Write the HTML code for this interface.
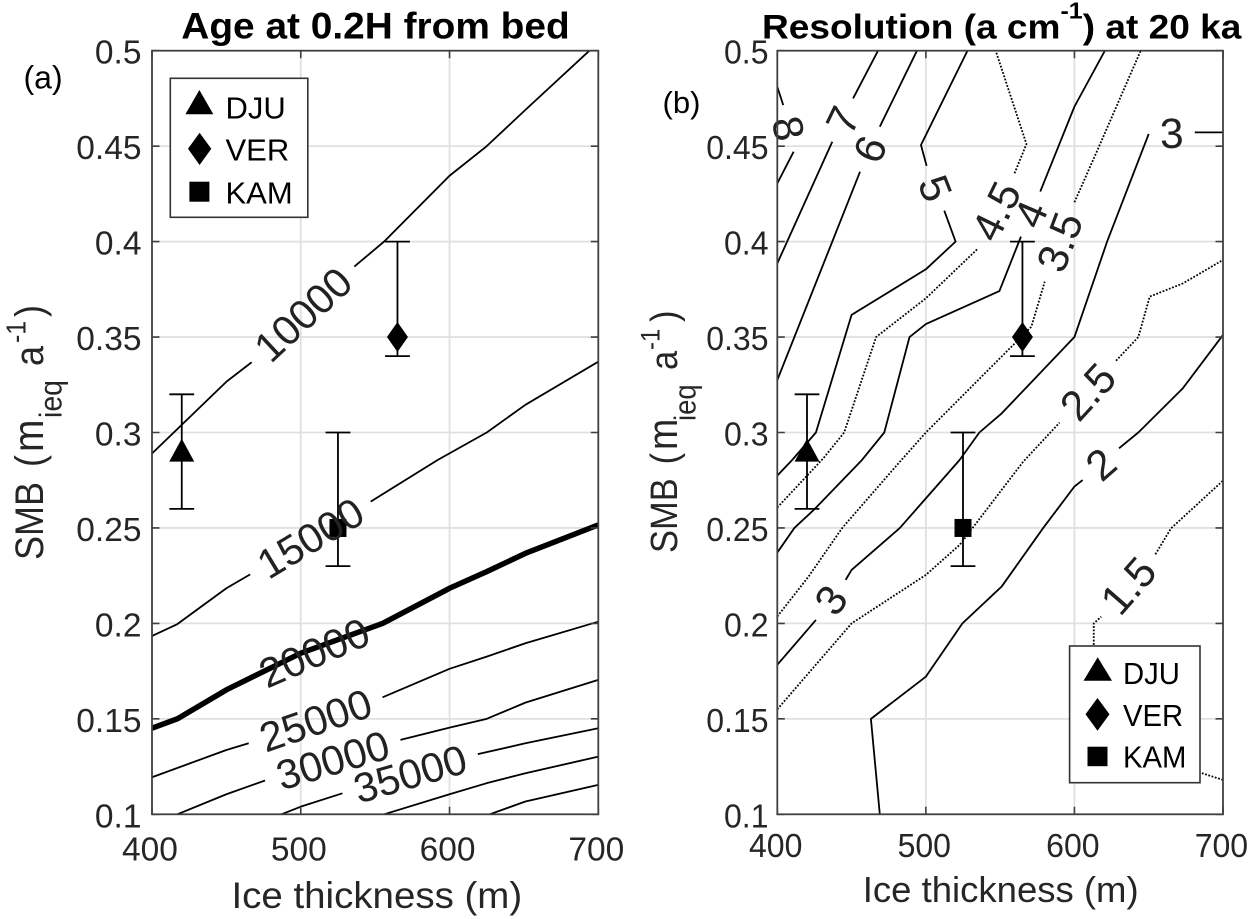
<!DOCTYPE html>
<html lang="en">
<head>
<meta charset="utf-8">
<title>Age and resolution contour charts</title>
<style>
html,body{margin:0;padding:0;background:#fff;}
svg{display:block;font-family:"Liberation Sans",sans-serif;}
</style>
</head>
<body>
<svg id="figure" xmlns="http://www.w3.org/2000/svg" width="1249" height="919" viewBox="0 0 1249 919">
  <rect x="0" y="0" width="1249" height="919" fill="#fff"/>
  <defs>
    <clipPath id="clip-a"><rect x="152" y="50.7" width="446.3" height="763.6"/></clipPath>
    <clipPath id="clip-b"><rect x="777.3" y="50.7" width="445.7" height="763.6"/></clipPath>
  </defs>
  <g id="plot-a"></g>
  <g id="plot-b"></g>

  <text transform="translate(375.5,38.3) scale(1.05,1)" text-anchor="middle" font-size="37" font-weight="700" fill="#000">Age at 0.2H from bed</text>
  <text transform="translate(762,38.3) scale(1.09,1)" font-size="34" font-weight="700" fill="#000">Resolution (a cm<tspan font-size="23" dy="-20">-1</tspan><tspan dy="20">) at 20 ka</tspan></text>

  <text transform="translate(23.5,88.5)" font-size="32" fill="#000">(a)</text>
  <text transform="translate(662.5,113)" font-size="31" fill="#000">(b)</text>

  <text transform="translate(376.8,908) scale(1.04,1)" text-anchor="middle" font-size="37" fill="#262626">Ice thickness (m)</text>
  <text transform="translate(1000.7,902)" text-anchor="middle" font-size="36.5" fill="#262626">Ice thickness (m)</text>

  <text transform="translate(43,560) rotate(-90) scale(1,1.1)" font-size="36" fill="#262626">SMB<tspan x="93">(</tspan><tspan x="108" font-size="39">m</tspan><tspan x="142" font-size="28.5" dy="17">ieq</tspan><tspan x="194" dy="-17">a</tspan><tspan x="217" font-size="25" dy="-16">-1</tspan><tspan x="243" dy="16">)</tspan></text>
  <text transform="translate(677,553) rotate(-90) scale(1,1.1)" font-size="34.5" fill="#262626">SMB<tspan x="88.6">(</tspan><tspan x="103" font-size="37.5">m</tspan><tspan x="132" font-size="27.5" dy="17">ieq</tspan><tspan x="183" dy="-17">a</tspan><tspan x="203" font-size="24" dy="-16">-1</tspan><tspan x="231" dy="16">)</tspan></text>

  <g>
    <rect x="170.3" y="78.3" width="137.5" height="139" fill="#fff" stroke="#333" stroke-width="1.6"/>
    <polygon points="185.4,114.3 213.3,114.3 199.4,90" fill="#000"/>
    <polygon points="199.6,132.7 211.3,148.8 199.6,165 188,148.8" fill="#000"/>
    <rect x="189.4" y="181.7" width="20" height="20" fill="#000"/>
    <text transform="translate(225.5,118.3)" font-size="31" fill="#000">DJU</text>
    <text transform="translate(225.5,160.7)" font-size="31" fill="#000">VER</text>
    <text transform="translate(225.5,203.3)" font-size="31" fill="#000">KAM</text>
  </g>

  <g>
    <rect x="1069.6" y="646" width="130.4" height="136.7" fill="#fff" stroke="#333" stroke-width="1.6"/>
    <polygon points="1083.5,680.7 1112,680.7 1097.7,657.3" fill="#000"/>
    <polygon points="1097.5,698 1109.5,714.3 1097.5,730.7 1085.5,714.3" fill="#000"/>
    <rect x="1087.5" y="746.7" width="20" height="19.5" fill="#000"/>
    <text transform="translate(1123,684) scale(.96,1)" font-size="30.5" fill="#000">DJU</text>
    <text transform="translate(1123,726) scale(.96,1)" font-size="30.5" fill="#000">VER</text>
    <text transform="translate(1123,767.3) scale(.96,1)" font-size="30.5" fill="#000">KAM</text>
  </g>
</svg>

<script>
// ---- axis values ----
const xTicks = [400, 500, 600, 700];
const xTickLabels = ['400', '500', '600', '700'];
const yTicks = [0.1, 0.15, 0.2, 0.25, 0.3, 0.35, 0.4, 0.45, 0.5];
const yTickLabels = ['0.1', '0.15', '0.2', '0.25', '0.3', '0.35', '0.4', '0.45', '0.5'];

// ---- ice-core sites ----
const siteNames = ['DJU', 'VER', 'KAM'];
const siteThickness = [420, 565, 525];
const siteSmb = [0.29, 0.35, 0.25];
const siteSmbLow = [0.26, 0.34, 0.23];
const siteSmbHigh = [0.32, 0.40, 0.30];

// ---- panel (a): age contours, [thickness, SMB] runs split where a label interrupts the line ----
const age10000 = [[[400,.289],[450,.3266],[467,.3368]], [[536,.3869],[556,.4],[600,.4345],[625,.45],[651,.469],[694,.5]]];
const age15000 = [[[400,.1934],[417,.1996],[450,.2184],[466,.2257]], [[547,.2638],[592,.2856],[625,.3],[651,.3145],[700,.3371]]];
const age20000 = [[[400,.1451],[417,.15],[450,.1652],[500,.1844],[555,.2],[600,.2184],[625,.2271],[651,.2367],[700,.2516]]];
const age20000LabelSpan = [[472,.1722],[546,.1972]];
const age25000 = [[[400,.1194],[450,.1337],[465,.1372]], [[555,.1613],[600,.1762],[625,.1826],[651,.1896],[700,.2009]]];
const age30000 = [[[417,.1],[450,.1105],[476,.1177]], [[567,.139],[600,.1454],[625,.15],[651,.1585],[700,.1704]]];
const age35000 = [[[487,.1],[500,.104],[528,.111]], [[619,.1315],[651,.1372],[700,.1451]]];
const age40000 = [[[556,.1],[600,.1105],[625,.1163],[651,.1215],[700,.1302]]];
const age45000 = [[[627,.1],[651,.1067],[700,.1154]]];

// ---- panel (b): resolution contours ----
const res1p5 = [[[700,.118],[686,.1215],[640,.135],[620,.16],[613,.18],[613,.2],[618,.2035]], [[654.5,.2362],[665,.2498],[681,.2612],[700,.2748]]];
const res2 = [[[469,.1],[463,.15],[500,.1721],[524.6,.2],[551,.2193],[579,.25],[600,.2717],[605.5,.2751]], [[630,.2917],[643,.3],[673,.3232],[700,.3511]]];
const res2p5 = [[[400,.155],[450,.2],[500,.2254],[522.7,.2411],[565.5,.2847],[590,.3052]], [[628,.3376],[643,.35],[650.7,.3712],[673,.3781],[700,.3904]]];
const res3 = [[[400,.1783],[426,.2018]], [[446,.2228],[450,.228],[482.5,.25],[500,.2655],[522.7,.2856],[536,.3],[551,.31],[600,.35],[622,.4],[650,.4564]], [[681,.4572],[700,.4572]]];
const res3p5 = [[[400,.2036],[421,.2245],[443.7,.25],[482.5,.2847],[500,.3],[571,.3554],[580,.379]], [[600,.4206],[616.5,.4497],[644.6,.5]]];
const res4 = [[[400,.2371],[411.5,.25],[425,.2598],[457,.2856],[472,.3],[489,.35],[500,.3568],[549.5,.3741],[564,.4026]], [[577,.4262],[600,.4707],[620.5,.5]]];
const res4p5 = [[[400,.2607],[431,.2865],[445,.3],[466.5,.35],[500,.3703],[534.7,.3961]], [[559.7,.4358],[567.7,.4511],[547,.5]]];
const res5 = [[[400,.2774],[410,.2856],[426,.3],[450,.3616],[500,.3855],[520,.4],[512.4,.4162]], [[500.5,.4397],[496.7,.4506],[528,.5]]];
const res6 = [[[400,.3275],[455.7,.4366]], [[469,.4602],[494,.5]]];
const res7 = [[[400,.3886],[437,.4523]], [[451,.475],[467.8,.5]]];
const res8 = [[[400,.4305],[411,.4471]], [[404,.4715],[400,.4811]]];

const SVGNS = 'http://www.w3.org/2000/svg';
const TOP = 50.7, BOTTOM = 814.3;

function yScale(v) { return BOTTOM - (v - 0.1) / 0.4 * (BOTTOM - TOP); }
function makeXScale(left, right) { return function (v) { return left + (v - 400) / 300 * (right - left); }; }
function mk(parent, tag, attrs, txt) {
  const el = document.createElementNS(SVGNS, tag);
  for (const k in attrs) el.setAttribute(k, attrs[k]);
  if (txt !== undefined) el.textContent = txt;
  parent.appendChild(el);
  return el;
}

function drawGrid(g, xs, left, right) {
  yTicks.forEach(function (t) {
    if (t === 0.1 || t === 0.5) return;
    const el = mk(g, 'line', {x1: left, x2: right, y1: yScale(t), y2: yScale(t), stroke: '#e0e0e0', 'stroke-width': 1.8});
    
    
  });
  xTicks.forEach(function (t) {
    if (t === 400 || t === 700) return;
    const el = mk(g, 'line', {x1: xs(t), x2: xs(t), y1: TOP, y2: BOTTOM, stroke: '#e0e0e0', 'stroke-width': 1.8});
    
    
  });
}

function drawAxes(g, xs, left, right, fontSize, tickScale, yLabelRight, xLabelShift, xLabelBase) {
  const box = mk(g, 'rect', {x: left, y: TOP, width: right - left, height: BOTTOM - TOP, fill: 'none', stroke: '#404040', 'stroke-width': 1.8});
  
  
  yTicks.forEach(function (t, i) {
    const y = yScale(t);
    const a = mk(g, 'path', {d: 'M' + left + ' ' + y + 'h7.5M' + right + ' ' + y + 'h-7.5', stroke: '#404040', 'stroke-width': 1.6, fill: 'none'});
    
    
    const l = mk(g, 'text', {transform: 'translate(' + yLabelRight + ',' + (y + 13) + ') scale(' + tickScale + ',1)', 'text-anchor': 'end', 'font-size': fontSize, fill: '#262626'}, yTickLabels[i]);
    
    
  });
  xTicks.forEach(function (t, i) {
    const x = xs(t);
    const a = mk(g, 'path', {d: 'M' + x + ' ' + TOP + 'v7.5M' + x + ' ' + BOTTOM + 'v-7.5', stroke: '#404040', 'stroke-width': 1.6, fill: 'none'});
    
    
    const l = mk(g, 'text', {transform: 'translate(' + (x + xLabelShift) + ',' + xLabelBase + ') scale(' + tickScale + ',1)', 'text-anchor': 'middle', 'font-size': fontSize, fill: '#262626'}, xTickLabels[i]);
    
    
  });
}

function drawLine(g, run, xs, clipId, width, dash) {
  const d = run.map(function (p, i) { return (i ? 'L' : 'M') + xs(p[0]).toFixed(2) + ' ' + yScale(p[1]).toFixed(2); }).join('');
  const attrs = {d: d, fill: 'none', stroke: '#000', 'stroke-width': width, 'clip-path': 'url(#' + clipId + ')', 'stroke-linejoin': 'round'};
  if (dash) attrs['stroke-dasharray'] = dash;
  const el = mk(g, 'path', attrs);
  
  
}

function drawLabel(g, text, a, b, xs, size) {
  const x1 = xs(a[0]), y1 = yScale(a[1]), x2 = xs(b[0]), y2 = yScale(b[1]);
  let ang = Math.atan2(y2 - y1, x2 - x1) * 180 / Math.PI;
  if (ang > 90) ang -= 180;
  if (ang <= -90) ang += 180;
  const el = mk(g, 'text', {
    transform: 'translate(' + ((x1 + x2) / 2).toFixed(2) + ',' + ((y1 + y2) / 2).toFixed(2) + ') rotate(' + ang.toFixed(1) + ')',
    'text-anchor': 'middle', dy: '0.35em', 'font-size': size, fill: '#222'
  }, text);
  
  
}

function drawContour(g, runs, xs, clipId, width, dash) {
  runs.forEach(function (run) { drawLine(g, run, xs, clipId, width, dash); });
}
function drawContourLabels(g, runs, text, xs, size) {
  for (let i = 0; i + 1 < runs.length; i++) {
    drawLabel(g, text, runs[i][runs[i].length - 1], runs[i + 1][0], xs, size);
  }
}

function drawSites(g, xs) {
  siteNames.forEach(function (name, i) {
    const x = xs(siteThickness[i]);
    const yL = yScale(siteSmbLow[i]), yH = yScale(siteSmbHigh[i]), y = yScale(siteSmb[i]);
    const bar = mk(g, 'path', {d: 'M' + x + ' ' + yL + 'V' + yH + 'M' + (x - 12.4) + ' ' + yL + 'h24.8M' + (x - 12.4) + ' ' + yH + 'h24.8', stroke: '#000', 'stroke-width': 1.8, fill: 'none'});
    
    
    let m;
    if (i === 0) {
      m = mk(g, 'polygon', {points: (x - 12.5) + ',' + (y + 10) + ' ' + (x + 12.5) + ',' + (y + 10) + ' ' + x + ',' + (y - 13), fill: '#000'});
    } else if (i === 1) {
      m = mk(g, 'polygon', {points: x + ',' + (y - 15) + ' ' + (x + 10.5) + ',' + y + ' ' + x + ',' + (y + 15) + ' ' + (x - 10.5) + ',' + y, fill: '#000'});
    } else {
      m = mk(g, 'rect', {x: x - 8.5, y: y - 9, width: 17, height: 18, fill: '#000'});
    }
    
    
  });
}

// ---- panel (a) ----
(function () {
  const g = document.getElementById('plot-a');
  const L = 152, R = 598.3;
  const xs = makeXScale(L, R);
  const lw = 1.8;
  drawGrid(g, xs, L, R);
  drawContour(g, age10000, xs, 'clip-a', lw);
  drawContour(g, age15000, xs, 'clip-a', lw);
  drawContour(g, age20000, xs, 'clip-a', 5.5);
  drawContour(g, age25000, xs, 'clip-a', lw);
  drawContour(g, age30000, xs, 'clip-a', lw);
  drawContour(g, age35000, xs, 'clip-a', lw);
  drawContour(g, age40000, xs, 'clip-a', lw);
  drawContour(g, age45000, xs, 'clip-a', lw);
  drawSites(g, xs);
  const size = 41.5;
  drawContourLabels(g, age10000, '10000', xs, size);
  drawContourLabels(g, age15000, '15000', xs, size);
  drawLabel(g, '20000', age20000LabelSpan[0], age20000LabelSpan[1], xs, size);
  drawContourLabels(g, age25000, '25000', xs, size);
  drawContourLabels(g, age30000, '30000', xs, size);
  drawContourLabels(g, age35000, '35000', xs, size);
  drawAxes(g, xs, L, R, 33.5, 1, 141.5, -2, 860.7);
})();

// ---- panel (b) ----
(function () {
  const g = document.getElementById('plot-b');
  const L = 777.3, R = 1223;
  const xs = makeXScale(L, R);
  const dot = '1.8 1.6';
  const lw = 1.8;
  drawGrid(g, xs, L, R);
  drawContour(g, res1p5, xs, 'clip-b', lw, dot);
  drawContour(g, res2, xs, 'clip-b', lw);
  drawContour(g, res2p5, xs, 'clip-b', lw, dot);
  drawContour(g, res3, xs, 'clip-b', lw);
  drawContour(g, res3p5, xs, 'clip-b', lw, dot);
  drawContour(g, res4, xs, 'clip-b', lw);
  drawContour(g, res4p5, xs, 'clip-b', lw, dot);
  drawContour(g, res5, xs, 'clip-b', lw);
  drawContour(g, res6, xs, 'clip-b', lw);
  drawContour(g, res7, xs, 'clip-b', lw);
  drawContour(g, res8, xs, 'clip-b', lw);
  drawSites(g, xs);
  const size = 42.5;
  drawContourLabels(g, res1p5, '1.5', xs, size);
  drawContourLabels(g, res2, '2', xs, size);
  drawContourLabels(g, res2p5, '2.5', xs, size);
  drawContourLabels(g, res3, '3', xs, size);
  drawContourLabels(g, res3p5, '3.5', xs, size);
  drawContourLabels(g, res4, '4', xs, size);
  drawContourLabels(g, res4p5, '4.5', xs, size);
  drawContourLabels(g, res5, '5', xs, size);
  drawContourLabels(g, res6, '6', xs, size);
  drawContourLabels(g, res7, '7', xs, size);
  drawContourLabels(g, res8, '8', xs, size);
  drawAxes(g, xs, L, R, 33, 0.97, 768.5, -1.6, 857);
})();
</script>
</body>
</html>
